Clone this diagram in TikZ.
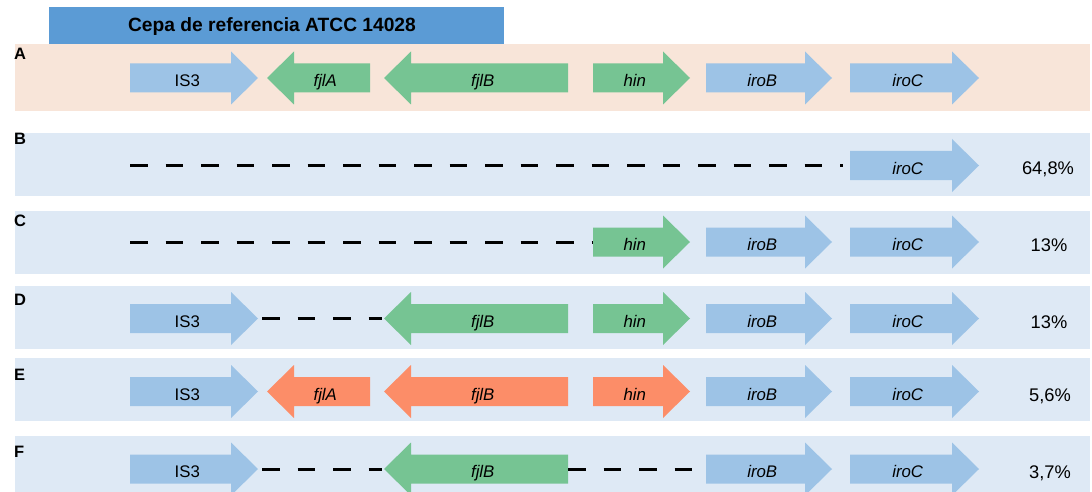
\documentclass[tikz,border=0pt]{standalone}
\usepackage{fontspec}
\setmainfont{Liberation Sans}
\definecolor{headblue}{RGB}{91,155,213}
\definecolor{peach}{RGB}{248,229,217}
\definecolor{rowblue}{RGB}{222,233,245}
\definecolor{geneblue}{RGB}{157,195,230}
\definecolor{genegreen}{RGB}{118,196,147}
\definecolor{geneorange}{RGB}{252,141,104}
\tikzset{
     headtext/.style = { font=\fontsize{19.2}{21}\selectfont\bfseries, inner sep=0pt, anchor=base },
     rowlabel/.style = { font=\fontsize{16.5}{18}\selectfont\bfseries, inner sep=0pt, anchor=base west },
    genelabel/.style = { font=\fontsize{16.8}{18}\selectfont, inner sep=0pt, anchor=base },
     pctlabel/.style = { font=\fontsize{18.3}{20}\selectfont, inner sep=0pt, anchor=base },
        isgene/.style = { fill=geneblue },
       flagene/.style = { fill=genegreen },
       mutgene/.style = { fill=geneorange },
       deleted/.style = { line width=3pt, dash pattern=on 17.5pt off 18pt }
}
% gene pointing right: name, tail x, tip x, row y, style, label
\newcommand{\fwdgene}[6]{%
  \fill[#5] (#2,#4-14.5) -- (#3-27,#4-14.5) -- (#3-27,#4-26.5) -- (#3,#4)
    -- (#3-27,#4+26.5) -- (#3-27,#4+14.5) -- (#2,#4+14.5) -- cycle;
  \coordinate (#1-tail) at (#2,#4);
  \coordinate (#1-tip) at (#3,#4);
  \node[genelabel] (#1) at ({(#2+#3-13.5)/2},#4+8.5) {#6};
}
% gene pointing left
\newcommand{\revgene}[6]{%
  \fill[#5] (#2,#4-14.5) -- (#3+27,#4-14.5) -- (#3+27,#4-26.5) -- (#3,#4)
    -- (#3+27,#4+26.5) -- (#3+27,#4+14.5) -- (#2,#4+14.5) -- cycle;
  \coordinate (#1-tail) at (#2,#4);
  \coordinate (#1-tip) at (#3,#4);
  \node[genelabel] (#1) at ({(#2+#3+13.5)/2},#4+8.5) {#6};
}

\begin{document}
\begin{tikzpicture}[x=1pt,y=-1pt]
  \useasboundingbox (0,0) rectangle (1092,492);

  % header and row backgrounds
  \fill[headblue] (49,7) rectangle (504,44);
  \node[headtext] (head) at (272,32) {Cepa de referencia ATCC 14028};
  \fill[peach]   (15,44)  rectangle (1090,111);
  \fill[rowblue] (15,133) rectangle (1090,196);
  \fill[rowblue] (15,211) rectangle (1090,274);
  \fill[rowblue] (15,286) rectangle (1090,349);
  \fill[rowblue] (15,358) rectangle (1090,421);
  \fill[rowblue] (15,436) rectangle (1090,492);

  \node[rowlabel] (lbl-A) at (14,60)  {A};
  \node[rowlabel] (lbl-B) at (14,144) {B};
  \node[rowlabel] (lbl-C) at (14,226) {C};
  \node[rowlabel] (lbl-D) at (14,305.5) {D};
  \node[rowlabel] (lbl-E) at (14,380) {E};
  \node[rowlabel] (lbl-F) at (14,457) {F};

  % A: reference
  \fwdgene{a-IS3}{130}{258}{78}{isgene}{IS3}
  \revgene{a-fljA}{370}{267}{78}{flagene}{\textit{fjlA}}
  \revgene{a-fljB}{568}{384}{78}{flagene}{\textit{fjlB}}
  \fwdgene{a-hin}{593}{690}{78}{flagene}{\textit{hin}}
  \fwdgene{a-iroB}{706}{832}{78}{isgene}{\textit{iroB}}
  \fwdgene{a-iroC}{850}{979}{78}{isgene}{\textit{iroC}}

  % B
  \coordinate (b-start) at (130,165.5);
  \fwdgene{b-iroC}{850}{979}{165.5}{isgene}{\textit{iroC}}
  \draw[deleted] (b-start) -- ([xshift=-7pt]b-iroC-tail);
  \node[pctlabel] (pct-B) at (1048,175) {64,8\%};

  % C
  \coordinate (c-start) at (130,242);
  \fwdgene{c-hin}{593}{690}{242}{flagene}{\textit{hin}}
  \fwdgene{c-iroB}{706}{832}{242}{isgene}{\textit{iroB}}
  \fwdgene{c-iroC}{850}{979}{242}{isgene}{\textit{iroC}}
  \draw[deleted] (c-start) -- (c-hin-tail);
  \node[pctlabel] (pct-C) at (1049,251.5) {13\%};

  % D
  \fwdgene{d-IS3}{130}{258}{318.5}{isgene}{IS3}
  \revgene{d-fljB}{568}{384}{318.5}{flagene}{\textit{fjlB}}
  \fwdgene{d-hin}{593}{690}{318.5}{flagene}{\textit{hin}}
  \fwdgene{d-iroB}{706}{832}{318.5}{isgene}{\textit{iroB}}
  \fwdgene{d-iroC}{850}{979}{318.5}{isgene}{\textit{iroC}}
  \draw[deleted] ([xshift=4pt]d-IS3-tip) -- ([xshift=-2pt]d-fljB-tip);
  \node[pctlabel] (pct-D) at (1049,328) {13\%};

  % E
  \fwdgene{e-IS3}{130}{258}{391.5}{isgene}{IS3}
  \revgene{e-fljA}{370}{267}{391.5}{mutgene}{\textit{fjlA}}
  \revgene{e-fljB}{568}{384}{391.5}{mutgene}{\textit{fjlB}}
  \fwdgene{e-hin}{593}{690}{391.5}{mutgene}{\textit{hin}}
  \fwdgene{e-iroB}{706}{832}{391.5}{isgene}{\textit{iroB}}
  \fwdgene{e-iroC}{850}{979}{391.5}{isgene}{\textit{iroC}}
  \node[pctlabel] (pct-E) at (1050,401) {5,6\%};

  % F
  \fwdgene{f-IS3}{130}{258}{469}{isgene}{IS3}
  \revgene{f-fljB}{568}{384}{469}{flagene}{\textit{fjlB}}
  \fwdgene{f-iroB}{706}{832}{469}{isgene}{\textit{iroB}}
  \fwdgene{f-iroC}{850}{979}{469}{isgene}{\textit{iroC}}
  \draw[deleted] ([xshift=4pt]f-IS3-tip) -- ([xshift=-2pt]f-fljB-tip);
  \draw[deleted] (f-fljB-tail) -- (f-iroB-tail);
  \node[pctlabel] (pct-F) at (1050,478.5) {3,7\%};
\end{tikzpicture}
\end{document}
